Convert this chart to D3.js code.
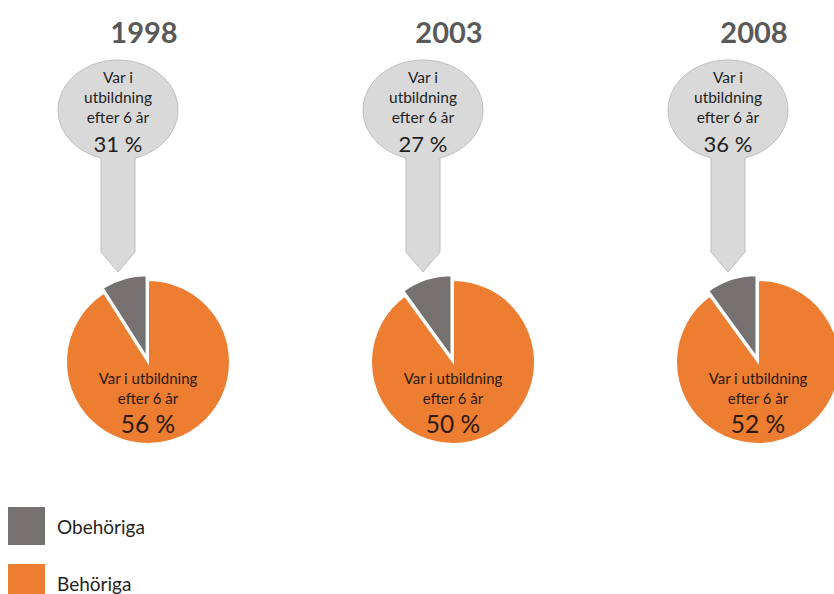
<!DOCTYPE html>
<html>
<head>
<meta charset="utf-8">
<script src="https://cdn.jsdelivr.net/npm/d3@7"></script>
<style>
  html, body { margin: 0; padding: 0; background: #fff; }
  svg { display: block; font-family: Lato, "Open Sans", sans-serif; }
</style>
</head>
<body>
<svg id="chart" width="834" height="594"></svg>
<script>
// values
var years = ['1998', '2003', '2008'];
var behorigaShare = [91, 90, 90];      // orange slice, %
var obehorigaShare = [9, 10, 10];      // grey slice, %
var behorigaInUtb = [56, 50, 52];      // label inside orange slice
var obehorigaInUtb = [31, 27, 36];     // label in grey balloon
var legendLabels = ['Obehöriga', 'Behöriga'];

var grey = '#767171';
var orange = '#ed7d31';
var textDark = '#1f1f1f';

var svg = d3.select('#chart');

var x = d3.scalePoint().domain(years).range([148, 758]);

var pieY = 362;
var radius = 82;
var explode = 5;

var pie = d3.pie().sort(null).value(function(d) { return d.value; });
var arc = d3.arc().innerRadius(0).outerRadius(radius);

years.forEach(function(year, i) {
  var cx = x(year);
  var g = svg.append('g');

  // title
  g.append('text')
    .attr('x', cx - 4)
    .attr('y', 31)
    .attr('text-anchor', 'middle')
    .attr('dominant-baseline', 'central')
    .attr('font-size', 29)
    .attr('font-weight', 'bold')
    .attr('fill', '#595959')
    .text(year);

  // balloon with stem
  var bx = cx - 30;
  var by = 110;
  var rx = 60, ry = 50;
  var half = 17;
  var yj = by + ry * Math.sqrt(1 - (half / rx) * (half / rx));
  var stemEnd = 252;
  var tip = 272;
  var path = 'M' + (bx - half) + ',' + yj +
    ' A' + rx + ',' + ry + ' 0 1 1 ' + (bx + half) + ',' + yj +
    ' L' + (bx + half) + ',' + stemEnd +
    ' L' + bx + ',' + tip +
    ' L' + (bx - half) + ',' + stemEnd + ' Z';
  g.append('path')
    .attr('d', path)
    .attr('fill', '#d9d9d9')
    .attr('stroke', '#bfbfbf')
    .attr('stroke-width', 1);

  var bLines = ['Var i', 'utbildning', 'efter 6 år'];
  bLines.forEach(function(t, k) {
    g.append('text')
      .attr('x', bx)
      .attr('y', by - 33 + k * 20)
      .attr('text-anchor', 'middle')
      .attr('dominant-baseline', 'central')
      .attr('font-size', 15.5)
      .attr('fill', textDark)
      .text(t);
  });
  g.append('text')
    .attr('x', bx)
    .attr('y', by + 33)
    .attr('text-anchor', 'middle')
    .attr('dominant-baseline', 'central')
    .attr('font-size', 22)
    .attr('fill', textDark)
    .text(obehorigaInUtb[i] + ' %');

  // pie
  var slices = pie([
    { key: 'b', value: behorigaShare[i] },
    { key: 'o', value: obehorigaShare[i] }
  ]);
  var pg = g.append('g').attr('transform', 'translate(' + cx + ',' + pieY + ')');
  pg.selectAll('path')
    .data(slices)
    .enter()
    .append('path')
    .attr('d', arc)
    .attr('fill', function(d) { return d.data.key === 'o' ? grey : orange; })
    .attr('stroke', '#fff')
    .attr('stroke-width', 2)
    .attr('transform', function(d) {
      if (d.data.key !== 'o') return null;
      var a = (d.startAngle + d.endAngle) / 2;
      return 'translate(' + (Math.sin(a) * explode) + ',' + (-Math.cos(a) * explode) + ')';
    });

  var pLines = ['Var i utbildning', 'efter 6 år'];
  pLines.forEach(function(t, k) {
    pg.append('text')
      .attr('x', 0)
      .attr('y', 16 + k * 20)
      .attr('text-anchor', 'middle')
      .attr('dominant-baseline', 'central')
      .attr('font-size', 15)
      .attr('fill', '#2a1a10')
      .text(t);
  });
  pg.append('text')
    .attr('x', 0)
    .attr('y', 61)
    .attr('text-anchor', 'middle')
    .attr('dominant-baseline', 'central')
    .attr('font-size', 24.5)
    .attr('fill', '#2a1a10')
    .text(behorigaInUtb[i] + ' %');
});

// legend
var legendColors = [grey, orange];
var legend = svg.selectAll('.legend')
  .data(legendLabels)
  .enter()
  .append('g')
  .attr('class', 'legend')
  .attr('transform', function(d, i) { return 'translate(8,' + (507 + i * 57) + ')'; });

legend.append('rect')
  .attr('width', 37)
  .attr('height', 38)
  .attr('fill', function(d, i) { return legendColors[i]; });

legend.append('text')
  .attr('x', 49)
  .attr('y', 19)
  .attr('dominant-baseline', 'central')
  .attr('font-size', 19)
  .attr('fill', textDark)
  .text(function(d) { return d; });
</script>
</body>
</html>
